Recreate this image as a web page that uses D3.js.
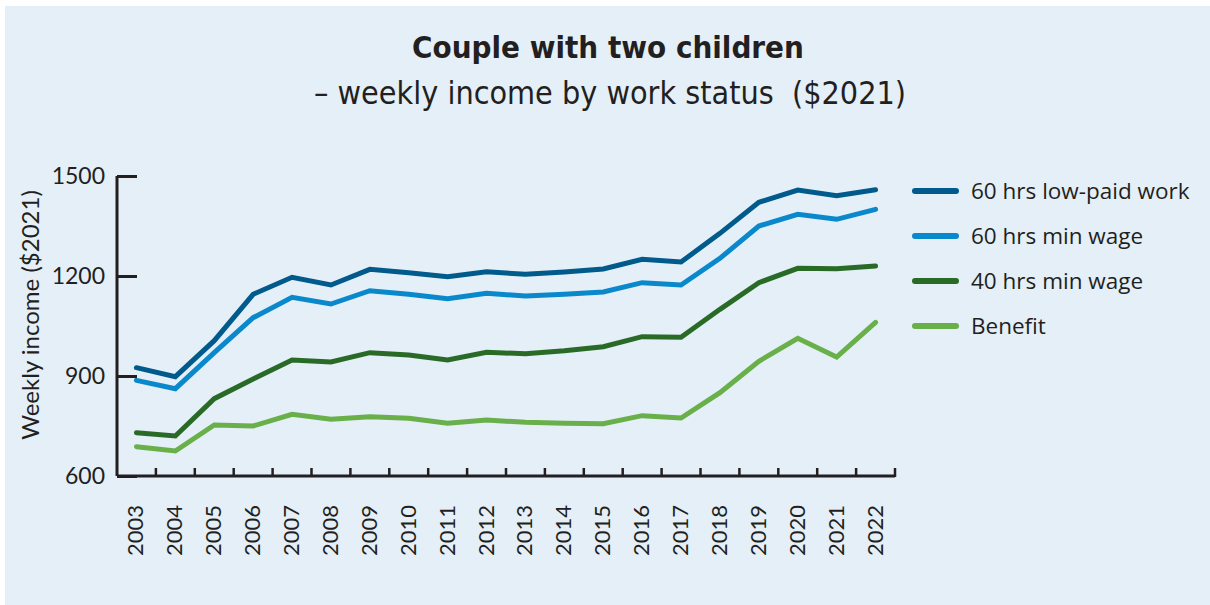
<!DOCTYPE html>
<html>
<head>
<meta charset="utf-8">
<script src="https://cdn.jsdelivr.net/npm/d3@7"></script>
<style>
  html, body { margin: 0; padding: 0; background: #ffffff; }
  svg { display: block; }
</style>
</head>
<body>
<div id="chart"></div>
<script>
// Weekly income for a couple with two children, by work status ($2021)
const years = ["2003","2004","2005","2006","2007","2008","2009","2010","2011","2012",
               "2013","2014","2015","2016","2017","2018","2019","2020","2021","2022"];

const lowPaid60 = [925, 898, 1006, 1145, 1196, 1173, 1220, 1210, 1198, 1213,
                   1205, 1212, 1221, 1250, 1242, 1328, 1421, 1458, 1441, 1459];
const minWage60 = [887, 862, 970, 1075, 1136, 1116, 1156, 1145, 1132, 1148,
                   1140, 1145, 1152, 1180, 1173, 1253, 1350, 1385, 1370, 1400];
const minWage40 = [730, 720, 832, 891, 948, 942, 970, 963, 948, 971,
                   967, 976, 988, 1018, 1016, 1100, 1180, 1223, 1222, 1230];
const benefit   = [688, 675, 753, 750, 785, 770, 778, 773, 758, 768,
                   761, 758, 757, 781, 774, 850, 944, 1013, 957, 1061];

const seriesNames = ["60 hrs low-paid work", "60 hrs min wage", "40 hrs min wage", "Benefit"];
const seriesValues = [lowPaid60, minWage60, minWage40, benefit];
const seriesColors = ["#005a8b", "#0a88cc", "#2a6a27", "#69b04a"];

const yTicks = [600, 900, 1200, 1500];

const W = 1210, H = 605;
const svg = d3.select("#chart").append("svg")
  .attr("width", W).attr("height", H);

// panel background
svg.append("rect")
  .attr("x", 5).attr("y", 6)
  .attr("width", W - 5).attr("height", H - 6)
  .attr("fill", "#e4eff8");

const plot = { left: 117, right: 895, top: 176, bottom: 476 };

const x = d3.scaleBand().domain(years).range([plot.left, plot.right]).padding(0);
const y = d3.scaleLinear().domain([600, 1500]).range([plot.bottom, plot.top]);

const axisColor = "#231f20";
const tickFont = "Lato, 'Noto Sans', sans-serif";

// title
svg.append("text")
  .attr("x", 608).attr("y", 58)
  .attr("text-anchor", "middle")
  .attr("font-family", "'Liberation Sans Narrow', 'DejaVu Sans Condensed', sans-serif")
  .attr("font-weight", "bold")
  .attr("font-size", 31)
  .attr("fill", "#231f20")
  .text("Couple with two children");

svg.append("text")
  .attr("x", 610).attr("y", 104)
  .attr("text-anchor", "middle")
  .attr("font-family", "'Liberation Sans Narrow', 'DejaVu Sans Condensed', sans-serif")
  .attr("font-size", 32)
  .attr("fill", "#231f20")
  .style("white-space", "pre")
  .text("\u2013 weekly income by work status  ($2021)");

// y axis
const yAxis = d3.axisLeft(y).tickValues(yTicks).tickSize(-20).tickPadding(12).tickFormat(d3.format("d"));
const gy = svg.append("g").attr("transform", `translate(${plot.left},0)`).call(yAxis);
gy.select(".domain").attr("stroke", axisColor).attr("stroke-width", 3)
  .attr("d", `M0,${plot.top}V${plot.bottom}`);
gy.selectAll(".tick line").attr("stroke", axisColor).attr("stroke-width", 3);
gy.selectAll(".tick text")
  .attr("font-family", tickFont).attr("font-size", 23).attr("fill", axisColor);

// x axis: ticks on band boundaries, labels at band centres
const gx = svg.append("g").attr("transform", `translate(0,${plot.bottom})`);
gx.append("path")
  .attr("d", `M${plot.left},0H${plot.right}`)
  .attr("stroke", axisColor).attr("stroke-width", 3).attr("fill", "none");
gx.selectAll("line.band-tick")
  .data(years.slice(1).concat(["end"]))
  .join("line")
  .attr("class", "band-tick")
  .attr("x1", d => d === "end" ? plot.right : x(d))
  .attr("x2", d => d === "end" ? plot.right : x(d))
  .attr("y1", 1).attr("y2", -8)
  .attr("stroke", axisColor).attr("stroke-width", 2.5);
gx.selectAll("text.year")
  .data(years)
  .join("text")
  .attr("class", "year")
  .attr("transform", d => `translate(${x(d) + x.bandwidth() / 2 + 7},29) rotate(-90)`)
  .attr("text-anchor", "end")
  .attr("font-family", tickFont).attr("font-size", 22).attr("fill", axisColor)
  .text(d => d);

// y axis title
svg.append("text")
  .attr("transform", "translate(39,315) rotate(-90)")
  .attr("text-anchor", "middle")
  .attr("font-family", tickFont).attr("font-size", 24).attr("fill", axisColor)
  .text("Weekly income ($2021)");

// series lines
const line = d3.line()
  .x((d, i) => x(years[i]) + x.bandwidth() / 2)
  .y(d => y(d));

svg.append("g").selectAll("path.series")
  .data(seriesValues)
  .join("path")
  .attr("class", "series")
  .attr("d", d => line(d))
  .attr("fill", "none")
  .attr("stroke", (d, i) => seriesColors[i])
  .attr("stroke-width", 5)
  .attr("stroke-linejoin", "miter")
  .attr("stroke-linecap", "round");

// legend
const legend = svg.append("g").attr("transform", "translate(915,191)");
const item = legend.selectAll("g.item")
  .data(seriesNames)
  .join("g")
  .attr("class", "item")
  .attr("transform", (d, i) => `translate(0,${i * 45})`);
item.append("line")
  .attr("x1", 0).attr("x2", 41).attr("y1", 0).attr("y2", 0)
  .attr("stroke", (d, i) => seriesColors[i])
  .attr("stroke-width", 6).attr("stroke-linecap", "round");
item.append("text")
  .attr("x", 56).attr("y", 8)
  .attr("font-family", "'Open Sans', 'Noto Sans', sans-serif")
  .attr("font-size", 22.5).attr("fill", "#231f20")
  .text(d => d);
</script>
</body>
</html>
